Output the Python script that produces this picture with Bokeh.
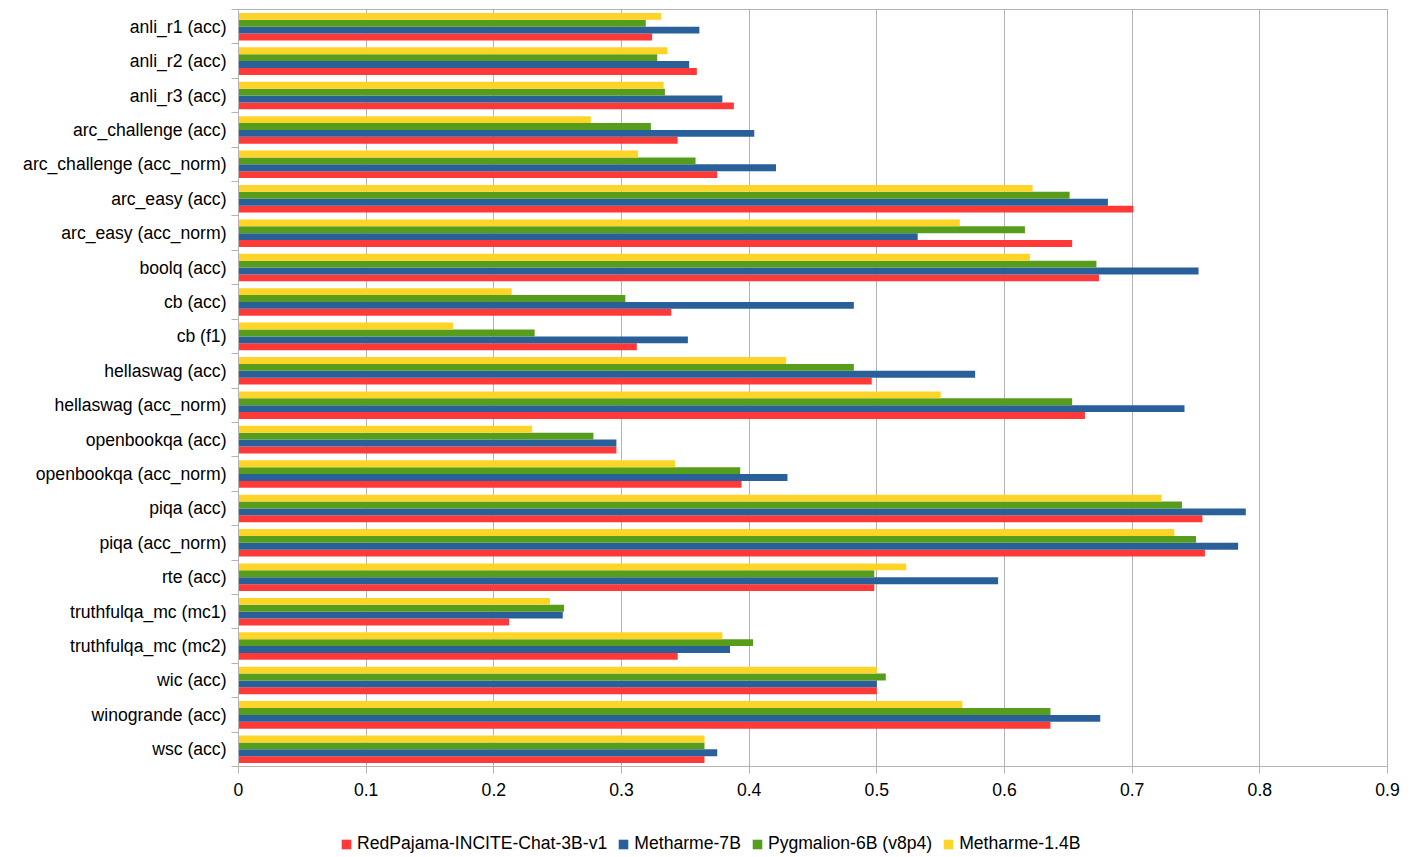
from bokeh.plotting import figure
from bokeh.layouts import column
from bokeh.models import (ColumnDataSource, Range1d, FixedTicker, NumeralTickFormatter,
                          Legend, LegendItem)
from bokeh.transform import dodge
from bokeh.embed import file_html
from bokeh.resources import INLINE

categories = ["anli_r1 (acc)", "anli_r2 (acc)", "anli_r3 (acc)", "arc_challenge (acc)",
              "arc_challenge (acc_norm)", "arc_easy (acc)", "arc_easy (acc_norm)", "boolq (acc)",
              "cb (acc)", "cb (f1)", "hellaswag (acc)", "hellaswag (acc_norm)",
              "openbookqa (acc)", "openbookqa (acc_norm)", "piqa (acc)", "piqa (acc_norm)",
              "rte (acc)", "truthfulqa_mc (mc1)", "truthfulqa_mc (mc2)", "wic (acc)",
              "winogrande (acc)", "wsc (acc)"]

redpajama = [0.324, 0.359, 0.388, 0.344, 0.375, 0.701, 0.653, 0.674, 0.339, 0.312, 0.496,
             0.663, 0.296, 0.394, 0.755, 0.757, 0.498, 0.212, 0.344, 0.500, 0.636, 0.365]
metharme_7b = [0.361, 0.353, 0.379, 0.404, 0.421, 0.681, 0.532, 0.752, 0.482, 0.352, 0.577,
               0.741, 0.296, 0.430, 0.789, 0.783, 0.595, 0.254, 0.385, 0.500, 0.675, 0.375]
pygmalion_6b = [0.319, 0.328, 0.334, 0.323, 0.358, 0.651, 0.616, 0.672, 0.303, 0.232, 0.482,
                0.653, 0.278, 0.393, 0.739, 0.750, 0.498, 0.255, 0.403, 0.507, 0.636, 0.365]
metharme_14b = [0.331, 0.336, 0.333, 0.276, 0.313, 0.622, 0.565, 0.620, 0.214, 0.168, 0.429,
                0.550, 0.230, 0.342, 0.723, 0.733, 0.523, 0.244, 0.379, 0.500, 0.567, 0.365]

series_names = ["RedPajama-INCITE-Chat-3B-v1", "Metharme-7B", "Pygmalion-6B (v8p4)", "Metharme-1.4B"]
colors = ["#ff3838", "#2a6099", "#579d1c", "#ffd428"]
offsets = [0.3, 0.1, -0.1, -0.3]
columns = ["redpajama", "metharme_7b", "pygmalion_6b", "metharme_14b"]

n = len(categories)
source = ColumnDataSource(dict(idx=list(range(n)), redpajama=redpajama, metharme_7b=metharme_7b,
                               pygmalion_6b=pygmalion_6b, metharme_14b=metharme_14b))

FONT = "Liberation Sans"
GRID = "#b3b3b3"

p = figure(width=1400, height=806, output_backend="svg", toolbar_location=None,
           x_range=Range1d(0, 0.9), y_range=Range1d(n - 0.5, -0.5),
           min_border_left=238, min_border_right=13, min_border_top=9, min_border_bottom=40)
p.outline_line_color = GRID
p.background_fill_color = "white"
p.border_fill_color = "white"

for col, c, off in zip(columns, colors, offsets):
    p.hbar(y=dodge("idx", off), right=col, left=0, height=0.2, source=source,
           fill_color=c, line_color=None)

# x axis
p.xaxis.ticker = FixedTicker(ticks=[i / 10 for i in range(10)])
p.xaxis.formatter = NumeralTickFormatter(format="0.[0]")
p.xaxis.axis_line_color = GRID
p.xaxis.major_tick_line_color = GRID
p.xaxis.major_tick_out = 7
p.xaxis.major_tick_in = 0
p.xaxis.minor_tick_line_color = None
p.xaxis.major_label_standoff = 9
p.xaxis.major_label_text_font = FONT
p.xaxis.major_label_text_font_size = "17.6px"
p.xaxis.major_label_text_color = "black"

# y axis
p.yaxis.ticker = FixedTicker(ticks=list(range(n)), minor_ticks=[i - 0.5 for i in range(n + 1)])
p.yaxis.major_label_overrides = {i: categories[i] for i in range(n)}
p.yaxis.axis_line_color = GRID
p.yaxis.major_tick_out = 0
p.yaxis.major_tick_in = 0
p.yaxis.major_tick_line_color = None
p.yaxis.minor_tick_out = 7
p.yaxis.minor_tick_in = 0
p.yaxis.minor_tick_line_color = GRID
p.yaxis.major_label_standoff = 5
p.yaxis.major_label_text_font = FONT
p.yaxis.major_label_text_font_size = "17.6px"
p.yaxis.major_label_text_color = "black"

p.xgrid.grid_line_color = GRID
p.xgrid.ticker = FixedTicker(ticks=[i / 10 for i in range(10)])
p.ygrid.grid_line_color = None

# legend strip below the chart
lg = figure(width=1400, height=50, output_backend="svg", toolbar_location=None,
            x_axis_location=None, y_axis_location=None,
            x_range=Range1d(0, 1), y_range=Range1d(0, 1),
            min_border_left=0, min_border_right=0, min_border_top=0, min_border_bottom=0)
lg.outline_line_color = None
lg.grid.visible = False
offscreen = ColumnDataSource(dict(y=[-10], right=[0]))
items = []
for nm, c in zip(series_names, colors):
    r = lg.hbar(y="y", right="right", left=0, height=0.1, source=offscreen,
                fill_color=c, line_color=None)
    items.append(LegendItem(label=nm, renderers=[r]))

legend = Legend(items=items, orientation="horizontal", location=(102, 2))
legend.label_text_font = FONT
legend.label_text_font_size = "17.6px"
legend.label_text_color = "black"
legend.glyph_width = 12
legend.glyph_height = 12
legend.label_standoff = 5
legend.spacing = 10
legend.padding = 0
legend.margin = 0
legend.border_line_color = None
legend.background_fill_alpha = 0
lg.add_layout(legend, "center")

layout = column(p, lg, spacing=0)
open("out.html", "w").write(file_html(layout, INLINE))
